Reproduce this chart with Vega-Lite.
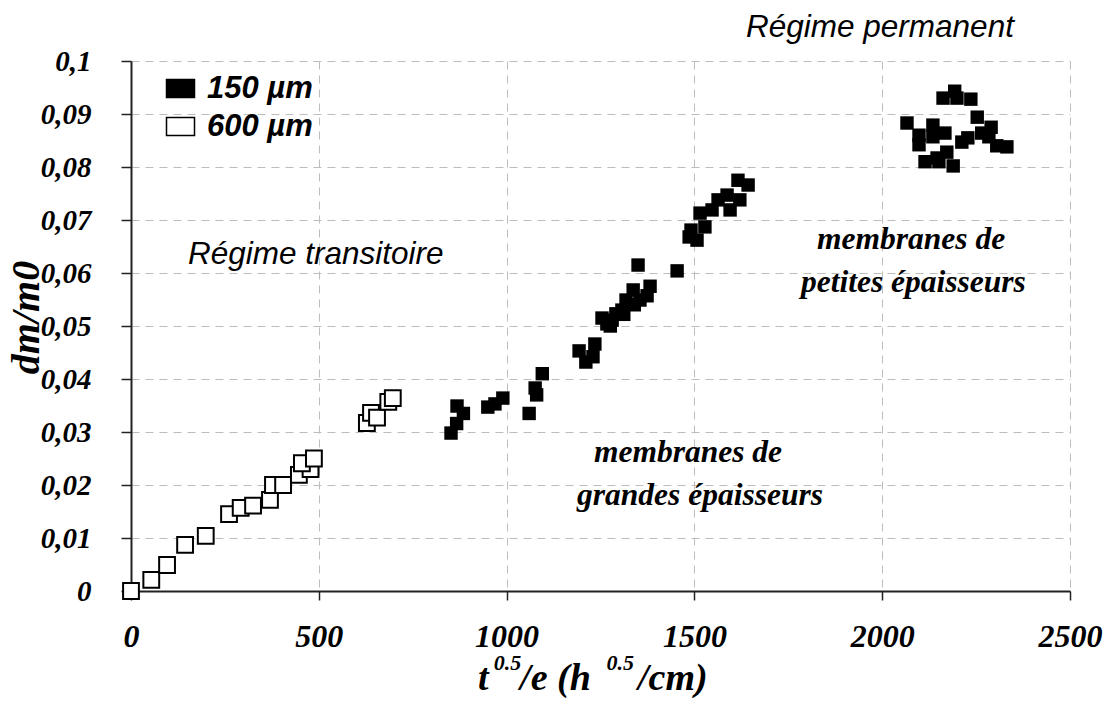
{
  "$schema": "https://vega.github.io/schema/vega-lite/v6.json",
  "width": 939,
  "height": 530,
  "autosize": {"type": "none"},
  "padding": {"left": 131, "top": 61, "right": 38, "bottom": 110},
  "background": "white",
  "config": {
    "view": {"stroke": null},
    "axis": {
      "grid": true,
      "gridColor": "#bdbdbd",
      "gridDash": [8, 6],
      "gridWidth": 1,
      "domainColor": "#222222",
      "domainWidth": 2,
      "tickColor": "#222222",
      "tickWidth": 1.5,
      "labelFont": "Liberation Serif",
      "labelFontStyle": "italic",
      "labelFontWeight": "bold",
      "labelColor": "black",
      "labelFlush": false,
      "labelOverlap": false,
      "titleFont": "Liberation Serif",
      "titleFontStyle": "italic",
      "titleFontWeight": "bold",
      "titleColor": "black"
    }
  },
  "datasets": {
    "pts": [
      {"x": 852, "y": 0.0298, "s": "150 µm"},
      {"x": 867, "y": 0.0316, "s": "150 µm"},
      {"x": 868, "y": 0.0349, "s": "150 µm"},
      {"x": 885, "y": 0.0335, "s": "150 µm"},
      {"x": 950, "y": 0.0347, "s": "150 µm"},
      {"x": 969, "y": 0.0353, "s": "150 µm"},
      {"x": 990, "y": 0.0364, "s": "150 µm"},
      {"x": 1060, "y": 0.0335, "s": "150 µm"},
      {"x": 1076, "y": 0.0383, "s": "150 µm"},
      {"x": 1080, "y": 0.037, "s": "150 µm"},
      {"x": 1095, "y": 0.041, "s": "150 µm"},
      {"x": 1193, "y": 0.0453, "s": "150 µm"},
      {"x": 1211, "y": 0.0432, "s": "150 µm"},
      {"x": 1230, "y": 0.0442, "s": "150 µm"},
      {"x": 1235, "y": 0.0466, "s": "150 µm"},
      {"x": 1254, "y": 0.0515, "s": "150 µm"},
      {"x": 1267, "y": 0.0504, "s": "150 µm"},
      {"x": 1281, "y": 0.0511, "s": "150 µm"},
      {"x": 1276, "y": 0.0500, "s": "150 µm"},
      {"x": 1291, "y": 0.0523, "s": "150 µm"},
      {"x": 1307, "y": 0.053, "s": "150 µm"},
      {"x": 1312, "y": 0.0522, "s": "150 µm"},
      {"x": 1318, "y": 0.0549, "s": "150 µm"},
      {"x": 1337, "y": 0.0568, "s": "150 µm"},
      {"x": 1340, "y": 0.0540, "s": "150 µm"},
      {"x": 1350, "y": 0.0615, "s": "150 µm"},
      {"x": 1355, "y": 0.0549, "s": "150 µm"},
      {"x": 1374, "y": 0.0557, "s": "150 µm"},
      {"x": 1382, "y": 0.0575, "s": "150 µm"},
      {"x": 1454, "y": 0.0604, "s": "150 µm"},
      {"x": 1486, "y": 0.0668, "s": "150 µm"},
      {"x": 1491, "y": 0.0681, "s": "150 µm"},
      {"x": 1507, "y": 0.0662, "s": "150 µm"},
      {"x": 1515, "y": 0.0713, "s": "150 µm"},
      {"x": 1528, "y": 0.0687, "s": "150 µm"},
      {"x": 1547, "y": 0.0719, "s": "150 µm"},
      {"x": 1563, "y": 0.0738, "s": "150 µm"},
      {"x": 1587, "y": 0.0747, "s": "150 µm"},
      {"x": 1595, "y": 0.0719, "s": "150 µm"},
      {"x": 1616, "y": 0.0775, "s": "150 µm"},
      {"x": 1621, "y": 0.0738, "s": "150 µm"},
      {"x": 1643, "y": 0.0766, "s": "150 µm"},
      {"x": 2066, "y": 0.0883, "s": "150 µm"},
      {"x": 2098, "y": 0.086, "s": "150 µm"},
      {"x": 2098, "y": 0.0842, "s": "150 µm"},
      {"x": 2114, "y": 0.081, "s": "150 µm"},
      {"x": 2135, "y": 0.0879, "s": "150 µm"},
      {"x": 2135, "y": 0.0857, "s": "150 µm"},
      {"x": 2146, "y": 0.0817, "s": "150 µm"},
      {"x": 2151, "y": 0.081, "s": "150 µm"},
      {"x": 2167, "y": 0.0864, "s": "150 µm"},
      {"x": 2162, "y": 0.093, "s": "150 µm"},
      {"x": 2193, "y": 0.0943, "s": "150 µm"},
      {"x": 2199, "y": 0.093, "s": "150 µm"},
      {"x": 2172, "y": 0.0828, "s": "150 µm"},
      {"x": 2189, "y": 0.0802, "s": "150 µm"},
      {"x": 2212, "y": 0.0847, "s": "150 µm"},
      {"x": 2228, "y": 0.0855, "s": "150 µm"},
      {"x": 2236, "y": 0.0928, "s": "150 µm"},
      {"x": 2253, "y": 0.0894, "s": "150 µm"},
      {"x": 2265, "y": 0.0864, "s": "150 µm"},
      {"x": 2290, "y": 0.0875, "s": "150 µm"},
      {"x": 2284, "y": 0.0857, "s": "150 µm"},
      {"x": 2305, "y": 0.084, "s": "150 µm"},
      {"x": 2332, "y": 0.0838, "s": "150 µm"},
      {"x": 0, "y": 0, "s": "600 µm"},
      {"x": 54, "y": 0.0021, "s": "600 µm"},
      {"x": 96, "y": 0.0049, "s": "600 µm"},
      {"x": 144, "y": 0.0087, "s": "600 µm"},
      {"x": 199, "y": 0.0104, "s": "600 µm"},
      {"x": 261, "y": 0.0145, "s": "600 µm"},
      {"x": 292, "y": 0.0157, "s": "600 µm"},
      {"x": 325, "y": 0.0161, "s": "600 µm"},
      {"x": 370, "y": 0.0172, "s": "600 µm"},
      {"x": 378, "y": 0.020, "s": "600 µm"},
      {"x": 405, "y": 0.020, "s": "600 µm"},
      {"x": 447, "y": 0.0219, "s": "600 µm"},
      {"x": 478, "y": 0.023, "s": "600 µm"},
      {"x": 455, "y": 0.0241, "s": "600 µm"},
      {"x": 487, "y": 0.025, "s": "600 µm"},
      {"x": 628, "y": 0.0317, "s": "600 µm"},
      {"x": 639, "y": 0.0336, "s": "600 µm"},
      {"x": 655, "y": 0.0327, "s": "600 µm"},
      {"x": 685, "y": 0.0357, "s": "600 µm"},
      {"x": 697, "y": 0.0364, "s": "600 µm"}
    ],
    "sans": [
      {"x": 1994, "y": 0.1062, "t": "Régime permanent"},
      {"x": 492, "y": 0.0634, "t": "Régime transitoire"}
    ],
    "serif": [
      {"x": 2077, "y": 0.0662, "t": "membranes de"},
      {"x": 2083, "y": 0.0581, "t": "petites épaisseurs"},
      {"x": 1483, "y": 0.026, "t": "membranes de"},
      {"x": 1515, "y": 0.0179, "t": "grandes épaisseurs"}
    ],
    "xtitle": [
      {"x": 924, "y": -0.0187, "t": "t"},
      {"x": 1036, "y": -0.0187, "t": "/e (h"},
      {"x": 1350, "y": -0.0187, "t": "/cm)"}
    ],
    "xsup": [
      {"x": 966, "y": -0.0149, "t": "0.5"},
      {"x": 1266, "y": -0.0149, "t": "0.5"}
    ]
  },
  "layer": [
    {
      "data": {"name": "pts"},
      "transform": [{"filter": "datum.s === '150 µm'"}],
      "mark": {"type": "square", "size": 180, "opacity": 1, "strokeWidth": 0},
      "encoding": {
        "x": {
          "field": "x", "type": "quantitative",
          "scale": {"domain": [0, 2500], "nice": false, "zero": false},
          "axis": {
            "values": [0, 500, 1000, 1500, 2000, 2500],
            "format": "d",
            "tickSize": 9,
            "labelFontSize": 32,
            "labelPadding": 21,
            "title": null
          }
        },
        "y": {
          "field": "y", "type": "quantitative",
          "scale": {"domain": [0, 0.1], "nice": false, "zero": false},
          "axis": {
            "values": [0, 0.01, 0.02, 0.03, 0.04, 0.05, 0.06, 0.07, 0.08, 0.09, 0.1],
            "labelExpr": "replace(format(datum.value, '~g'), '.', ',')",
            "labelFontSize": 29,
            "tickSize": 10,
            "labelPadding": 30,
            "title": "dm/m0",
            "titleFontSize": 40,
            "titleAngle": 270,
            "titleX": -105,
            "titleY": 256,
            "titleAlign": "center",
            "titleBaseline": "middle"
          }
        },
        "fill": {
          "field": "s", "type": "nominal",
          "scale": {"domain": ["150 µm", "600 µm"], "range": ["black", "white"]},
          "legend": {
            "title": null,
            "orient": "none",
            "legendX": 34,
            "legendY": 12,
            "padding": 0,
            "symbolType": "M-1.4,-0.9H1.4V0.9H-1.4Z",
            "symbolSize": 400,
            "symbolStrokeColor": "black",
            "symbolStrokeWidth": 1.5,
            "symbolOpacity": 1,
            "labelFont": "Liberation Sans",
            "labelFontStyle": "italic",
            "labelFontWeight": "bold",
            "labelFontSize": 31,
            "labelColor": "black",
            "labelOffset": 11,
            "rowPadding": 6
          }
        }
      }
    },
    {
      "data": {"name": "pts"},
      "transform": [{"filter": "datum.s === '600 µm'"}],
      "mark": {"type": "square", "size": 250, "opacity": 1, "stroke": "black", "strokeWidth": 2},
      "encoding": {
        "x": {"field": "x", "type": "quantitative"},
        "y": {"field": "y", "type": "quantitative"},
        "fill": {"field": "s", "type": "nominal"}
      }
    },
    {
      "mark": {"type": "rule", "color": "#222222", "strokeWidth": 2},
      "encoding": {"x": {"datum": 2500, "type": "quantitative"}}
    },
    {
      "data": {"name": "sans"},
      "mark": {"type": "text", "font": "Liberation Sans", "fontStyle": "italic", "fontSize": 31.5, "color": "black", "align": "center", "baseline": "middle"},
      "encoding": {
        "x": {"field": "x", "type": "quantitative"},
        "y": {"field": "y", "type": "quantitative"},
        "text": {"field": "t"}
      }
    },
    {
      "data": {"name": "serif"},
      "mark": {"type": "text", "font": "Liberation Serif", "fontStyle": "italic", "fontWeight": "bold", "fontSize": 31.5, "color": "black", "align": "center", "baseline": "middle"},
      "encoding": {
        "x": {"field": "x", "type": "quantitative"},
        "y": {"field": "y", "type": "quantitative"},
        "text": {"field": "t"}
      }
    },
    {
      "data": {"name": "xtitle"},
      "mark": {"type": "text", "font": "Liberation Serif", "fontStyle": "italic", "fontWeight": "bold", "fontSize": 38, "color": "black", "align": "left", "baseline": "alphabetic"},
      "encoding": {
        "x": {"field": "x", "type": "quantitative"},
        "y": {"field": "y", "type": "quantitative"},
        "text": {"field": "t"}
      }
    },
    {
      "data": {"name": "xsup"},
      "mark": {"type": "text", "font": "Liberation Serif", "fontStyle": "italic", "fontWeight": "bold", "fontSize": 22, "color": "black", "align": "left", "baseline": "alphabetic"},
      "encoding": {
        "x": {"field": "x", "type": "quantitative"},
        "y": {"field": "y", "type": "quantitative"},
        "text": {"field": "t"}
      }
    }
  ]
}
